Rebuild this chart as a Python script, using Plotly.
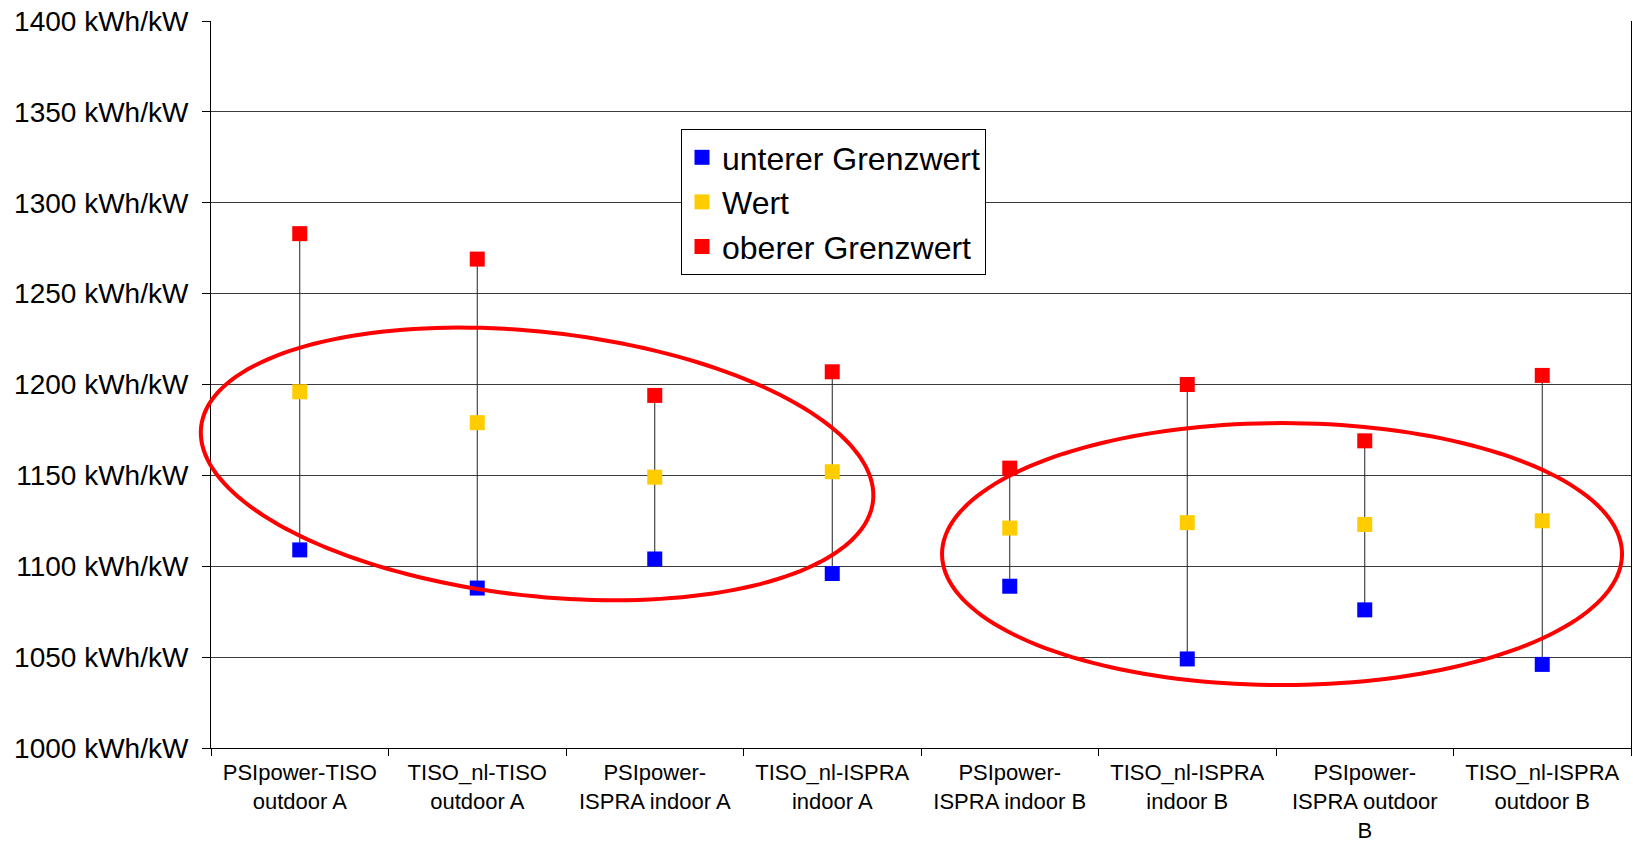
import numpy as np
import plotly.graph_objects as go

# Standorte / Vergleichsfälle
categories = [
    "PSIpower-TISO<br>outdoor A",
    "TISO_nl-TISO<br>outdoor A",
    "PSIpower-<br>ISPRA indoor A",
    "TISO_nl-ISPRA<br>indoor A",
    "PSIpower-<br>ISPRA indoor B",
    "TISO_nl-ISPRA<br>indoor B",
    "PSIpower-<br>ISPRA outdoor<br>B",
    "TISO_nl-ISPRA<br>outdoor B",
]

# Spezifischer Ertrag in kWh/kW
unterer_grenzwert = [1109, 1088, 1104, 1096, 1089, 1049, 1076, 1046]
wert = [1196, 1179, 1149, 1152, 1121, 1124, 1123, 1125]
oberer_grenzwert = [1283, 1269, 1194, 1207, 1154, 1200, 1169, 1205]

y_ticks = list(range(1000, 1401, 50))
y_tick_labels = [f"{v} kWh/kW" for v in y_ticks]

W, H = 1633, 847
ML, MR, MT, MB = 211, 2, 21, 99
FONT = "Arial, Liberation Sans, sans-serif"

x = list(range(len(categories)))
x_range = [-0.5, len(categories) - 0.5]
y_range = [y_ticks[0], y_ticks[-1]]

fig = go.Figure()

# Verbindungslinien zwischen unterem und oberem Grenzwert
lx, ly = [], []
for i, (lo, hi) in enumerate(zip(unterer_grenzwert, oberer_grenzwert)):
    lx += [i, i, None]
    ly += [lo, hi, None]
fig.add_trace(go.Scatter(x=lx, y=ly, mode="lines", showlegend=False,
                         hoverinfo="skip",
                         line=dict(color="#222222", width=1)))

series = [
    ("unterer Grenzwert", unterer_grenzwert, "#0000FF"),
    ("Wert", wert, "#FFCC00"),
    ("oberer Grenzwert", oberer_grenzwert, "#FF0000"),
]
for name, vals, col in series:
    fig.add_trace(go.Scatter(
        x=x, y=vals, mode="markers", name=name,
        marker=dict(symbol="square", size=15, color=col,
                    line=dict(width=0)),
    ))

# Markierungs-Ellipsen um die Gruppen A und B
plot_w = W - ML - MR
plot_h = H - MT - MB

ellipses = [
    # (Mitte x, Mitte y, Halbachse a [px], Halbachse b [px], Drehung [Grad])
    (1.337, 1156.3, 338, 132, 6.3),
    (5.534, 1106.7, 340, 131, 0.0),
]
t = np.linspace(0, 2 * np.pi, 181)
for cx, cy, a, b, ang in ellipses:
    th = np.radians(ang)
    dxp = a * np.cos(t) * np.cos(th) - b * np.sin(t) * np.sin(th)
    dyp = a * np.cos(t) * np.sin(th) + b * np.sin(t) * np.cos(th)
    # in Papierkoordinaten, damit die Ellipse über den Achsenrand hinausragen darf
    px0 = (cx - x_range[0]) / (x_range[1] - x_range[0])
    py0 = (cy - y_range[0]) / (y_range[1] - y_range[0])
    ex = px0 + dxp / plot_w
    ey = py0 - dyp / plot_h
    path = "M " + " L ".join(f"{u:.5f},{v:.5f}" for u, v in zip(ex, ey)) + " Z"
    fig.add_shape(type="path", path=path, xref="paper", yref="paper",
                  line=dict(color="#FF0000", width=4), layer="above")

fig.update_layout(
    width=W, height=H,
    margin=dict(l=ML, r=MR, t=MT, b=MB, pad=0, autoexpand=False),
    paper_bgcolor="white", plot_bgcolor="white",
    font=dict(family=FONT, color="black"),
    legend=dict(
        x=(681 - ML) / plot_w, y=(H - MB - 129) / plot_h,
        xanchor="left", yanchor="top",
        bgcolor="white", bordercolor="#000000", borderwidth=1,
        font=dict(size=32, family=FONT, color="black"),
        tracegroupgap=0,
    ),
    showlegend=True,
)

fig.update_xaxes(
    range=x_range, automargin=False,
    tickmode="array", tickvals=x, ticktext=categories,
    ticks="", showgrid=False, zeroline=False,
    showline=True, linecolor="#000000", linewidth=1,
    tickfont=dict(size=22, family=FONT, color="black"),
    ticklabelstandoff=5,
    minor=dict(tickmode="array", tickvals=[i - 0.5 for i in range(len(categories) + 1)],
               ticks="outside", ticklen=7, tickcolor="#000000", showgrid=False),
    fixedrange=True,
)
fig.update_yaxes(
    range=y_range, automargin=False,
    tickmode="array", tickvals=y_ticks, ticktext=y_tick_labels,
    ticks="outside", ticklen=8, tickcolor="#000000",
    showgrid=True, gridcolor="#3c3c3c", gridwidth=1,
    zeroline=False, showline=True, linecolor="#000000", linewidth=1,
    mirror=True,
    tickfont=dict(size=28, family=FONT, color="black"),
    ticklabelstandoff=8,
    fixedrange=True,
)

fig.write_html("out.html")
